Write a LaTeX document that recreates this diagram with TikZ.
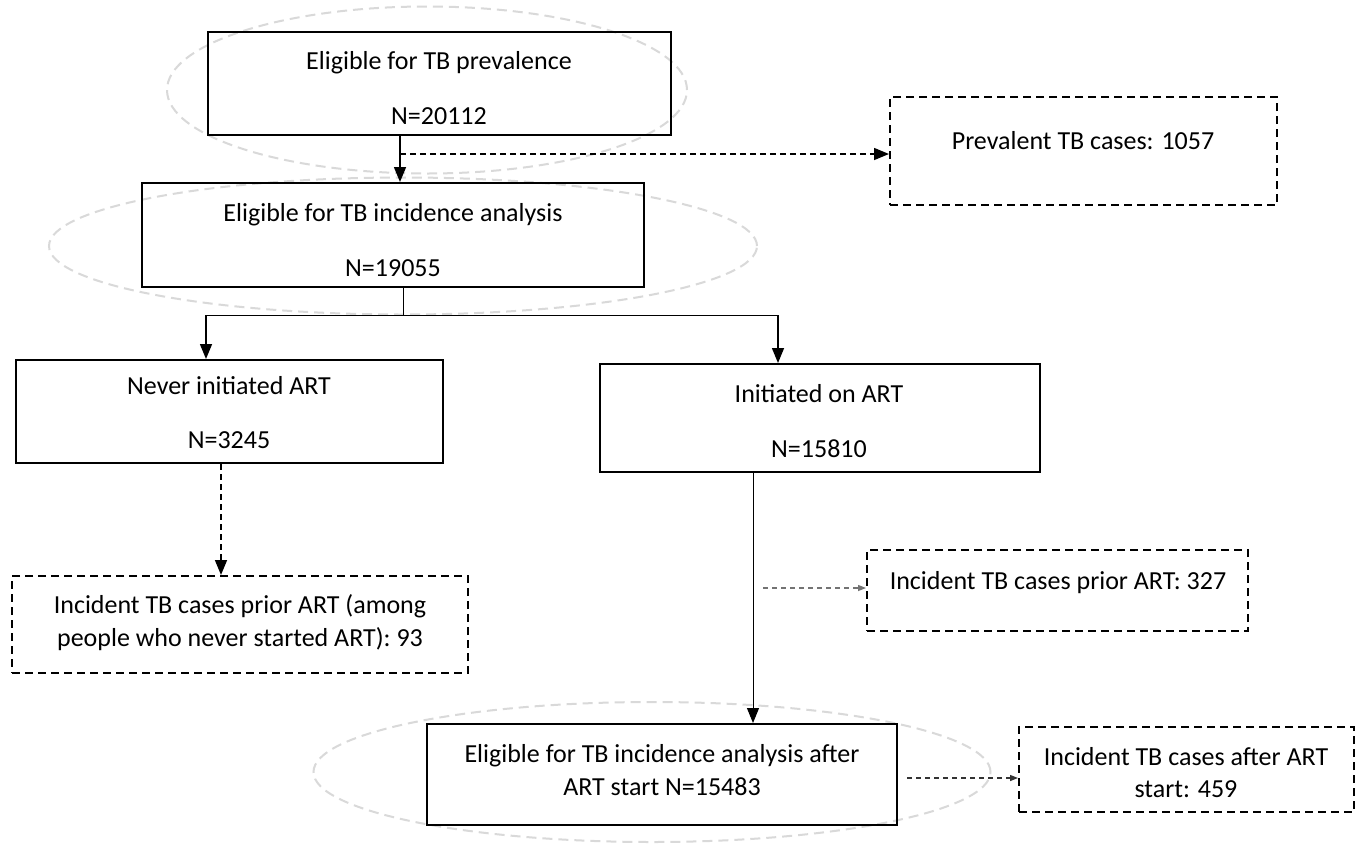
\documentclass[tikz,border=0pt]{standalone}
\usepackage{fontspec}
\setmainfont{Carlito}
\usetikzlibrary{arrows.meta,shapes.geometric}
\begin{document}
\begin{tikzpicture}[x=1pt,y=-1pt,
  every node/.style={font=\fontsize{26}{33}\selectfont},
  box/.style={draw, line width=2pt, inner sep=0pt},
  dbox/.style={box, dash pattern=on 8pt off 5pt},
  txt/.style={align=center, inner sep=0pt},
  ell/.style={draw=black!15, line width=2pt, dash pattern=on 10pt off 6pt, ellipse, inner sep=0pt},
  arr/.style={line width=1.5pt, -{Triangle[length=15pt,width=12pt]}},
  darr/.style={line width=1.5pt, dash pattern=on 6pt off 4pt, -{Triangle[length=15pt,width=12pt]}},
  garr/.style={line width=1.3pt, draw=black!55, dash pattern=on 5pt off 4pt, -{Triangle[length=8pt,width=6pt]}},
  thin/.style={line width=1pt}]
\useasboundingbox (0,0) rectangle (1363,844);
\fill[white] (0,0) rectangle (1363,844);
% ellipses
\node[ell, minimum width=520pt, minimum height=167pt] (e1) at (427,90) {};
\node[ell, minimum width=708pt, minimum height=137pt] (e2) at (403,246) {};
\node[ell, minimum width=677pt, minimum height=140pt] (e7) at (652,772) {};
% boxes
\node[box, minimum width=463pt, minimum height=103pt] (b1) at (439.5,83.5) {};
\node[dbox, minimum width=387pt, minimum height=108pt] (prev) at (1083.5,151) {};
\node[box, minimum width=502pt, minimum height=104pt] (b2) at (393,235) {};
\node[box, minimum width=427pt, minimum height=103pt] (b3) at (229.5,411.5) {};
\node[box, minimum width=440pt, minimum height=108pt] (b4) at (820,418) {};
\node[dbox, minimum width=456pt, minimum height=97pt] (b5) at (240,624.5) {};
\node[dbox, minimum width=381pt, minimum height=81pt] (b6) at (1057.5,590.5) {};
\node[box, minimum width=470pt, minimum height=101pt] (b7) at (662,774.5) {};
\node[dbox, minimum width=335pt, minimum height=85pt] (b8) at (1186.5,769.5) {};
% texts
\node[txt] (t1) at (439,88) {Eligible for TB prevalence\\[22pt]N=20112};
\node[txt] (tp) at (1083,141) {Prevalent TB cases: 1057};
\node[txt] (t2) at (393,240) {Eligible for TB incidence analysis\\[22pt]N=19055};
\node[txt] (t3) at (229,413) {Never initiated ART\\[21pt]N=3245};
\node[txt] (t4) at (819,421) {Initiated on ART\\[22pt]N=15810};
\node[txt] (t5) at (240,623) {Incident TB cases prior ART (among\\people who never started ART): 93};
\node[txt] (t6) at (1058,583) {Incident TB cases prior ART: 327};
\node[txt] (t7) at (662,770) {Eligible for TB incidence analysis after\\ART start N=15483};
\node[txt] (t8) at (1186,773) {Incident TB cases after ART\\[-1pt]start: 459};
% junction coordinates
\coordinate (j1) at (400,154);
\coordinate (j2) at (403,315);
\coordinate (l3) at (206,315);
\coordinate (r4) at (778,315);
\coordinate (d3) at (221,470);
\coordinate (v4) at (753,470);
\coordinate (g6) at (763,588);
\coordinate (g8) at (907,778);
% connectors
\draw[arr] (b1.south -| j1) -- (b2.north -| j1);
\draw[darr] (j1) -- (prev.west |- j1);
\draw[thin] (b2.south -| j2) -- (j2);
\draw[thin] (l3) -- (r4);
\draw[arr] (l3) -- (b3.north -| l3);
\draw[arr] (r4) -- (b4.north -| r4);
\draw[darr] (b3.south -| d3) -- (b5.north -| d3);
\draw[thin, -{Triangle[length=15pt,width=12pt]}] (b4.south -| v4) -- (b7.north -| v4);
\draw[garr] (g6) -- (b6.west |- g6);
\draw[garr, draw=black!80] (g8) -- (b8.west |- g8);
\end{tikzpicture}
\end{document}
